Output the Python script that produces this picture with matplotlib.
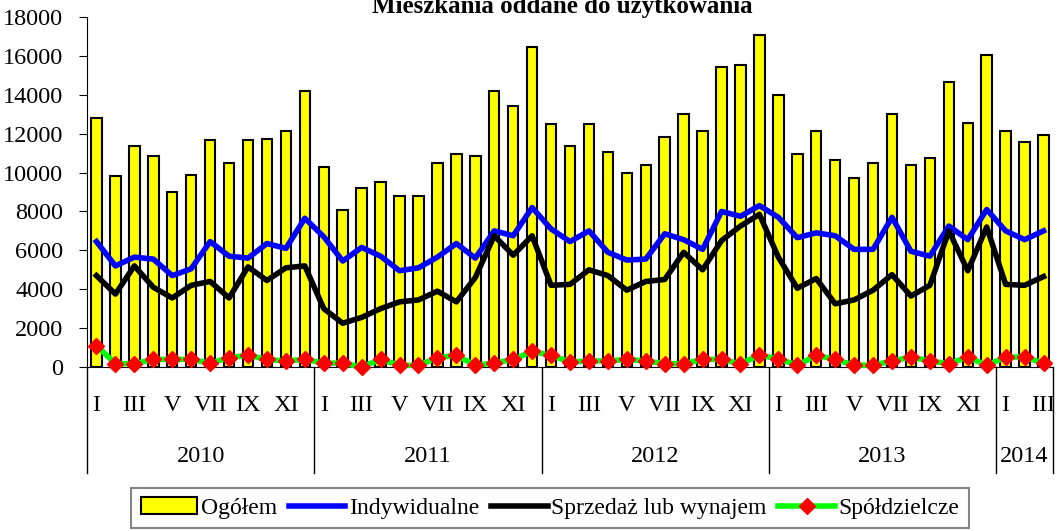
import numpy as np
import matplotlib
matplotlib.use("Agg")
import matplotlib.pyplot as plt
from matplotlib.lines import Line2D
from matplotlib.patches import Patch
import matplotlib.transforms as mtransforms

plt.rcParams['font.family'] = ['Liberation Serif', 'DejaVu Serif']

# data, Jan 2010 - Mar 2014
years = ['2010', '2011', '2012', '2013', '2014']
months_per_year = [12, 12, 12, 12, 3]
roman = ['I', 'II', 'III', 'IV', 'V', 'VI', 'VII', 'VIII', 'IX', 'X', 'XI', 'XII']

ogolem = [12800, 9800, 11350, 10850, 9000, 9900, 11650, 10500, 11650, 11750, 12150, 14200,
          10300, 8100, 9200, 9500, 8800, 8800, 10500, 10950, 10850, 14200, 13400, 16450,
          12500, 11350, 12500, 11050, 10000, 10400, 11850, 13000, 12150, 15450, 15550, 17100,
          14000, 10950, 12150, 10650, 9700, 10500, 13000, 10400, 10750, 14650, 12550, 16050,
          12150, 11550, 11950]
indywidualne = [6450, 5200, 5650, 5550, 4700, 5050, 6450, 5700, 5600, 6350, 6100, 7650,
                6700, 5450, 6150, 5700, 4950, 5100, 5650, 6350, 5600, 7000, 6750, 8200,
                7100, 6450, 7000, 5900, 5500, 5550, 6850, 6550, 6050, 8000, 7750, 8300,
                7700, 6650, 6900, 6750, 6050, 6050, 7700, 5950, 5700, 7250, 6550, 8100,
                7000, 6550, 7000]
sprzedaz = [4700, 3750, 5200, 4100, 3550, 4200, 4400, 3550, 5150, 4450, 5100, 5200,
            3000, 2250, 2550, 3000, 3350, 3450, 3900, 3350, 4600, 6750, 5750, 6750,
            4200, 4250, 5000, 4700, 3950, 4400, 4500, 5900, 5000, 6500, 7250, 7850,
            5650, 4050, 4550, 3250, 3450, 3950, 4750, 3650, 4200, 7000, 4950, 7200,
            4250, 4200, 4650]
spoldzielcze = [1100, 170, 170, 390, 390, 390, 200, 480, 600, 390, 310, 390,
                200, 200, 0, 390, 90, 90, 480, 600, 90, 200, 390, 800,
                600, 260, 310, 310, 390, 310, 170, 170, 390, 390, 170, 600,
                430, 90, 600, 390, 90, 90, 310, 510, 310, 170, 510, 90,
                510, 510, 200]

x = np.arange(len(ogolem))

fig = plt.figure(figsize=(10.58, 5.31), dpi=100)
ax = fig.add_axes([87/1058, (531-367)/531, (1053-87)/1058, 350/531])

ax.bar(x, ogolem, width=0.55, color='#ffff00', edgecolor='black', linewidth=1.5, zorder=2)
ax.plot(x, indywidualne, color='#0000ff', lw=4, zorder=3)
ax.plot(x, sprzedaz, color='black', lw=4, zorder=3)
ax.plot(x, spoldzielcze, color='#00ff00', lw=4, marker='D', markersize=8.5,
        markerfacecolor='red', markeredgecolor='red', zorder=4, clip_on=False)

ax.set_xlim(-0.5, len(x) - 0.5)
ax.set_ylim(0, 18000)
ax.set_yticks(np.arange(0, 18001, 2000))
ax.tick_params(axis='y', labelsize=17.5, length=6, direction='out', pad=11)
for s in ['top', 'right']:
    ax.spines[s].set_visible(False)

# month labels (every second month) and year groups
month_labels = []
for n in months_per_year:
    month_labels += roman[:n]
shown = [i for i in x if month_labels[i] in ('I', 'III', 'V', 'VII', 'IX', 'XI')]
ax.set_xticks(shown)
ax.set_xticklabels([month_labels[i] for i in shown])
ax.tick_params(axis='x', labelsize=17.5, length=0, pad=20)

trans = mtransforms.blended_transform_factory(ax.transData, ax.transAxes)
edges = np.concatenate([[0], np.cumsum(months_per_year)]) - 0.5
for e in edges:
    ax.plot([e, e], [0, -106/350], color='black', lw=1, transform=trans, clip_on=False)
for i, yr in enumerate(years):
    ax.text((edges[i] + edges[i+1]) / 2, -90/350, yr, transform=trans,
            ha='center', va='center', fontsize=17.5)

fig.text(562/1058, 1 - 13/531, 'Mieszkania oddane do użytkowania', ha='center',
         va='baseline', fontsize=18, fontweight='bold')

handles = [Patch(facecolor='#ffff00', edgecolor='black', linewidth=1.5),
           Line2D([], [], color='#0000ff', lw=4),
           Line2D([], [], color='black', lw=4),
           Line2D([], [], color='#00ff00', lw=4, marker='D', markersize=8.5,
                  markerfacecolor='red', markeredgecolor='red')]
labels = ['Ogółem', 'Indywidualne', 'Sprzedaż lub wynajem', 'Spółdzielcze']
leg = fig.legend(handles, labels, loc='center', bbox_to_anchor=(550/1058, 1 - 508/531),
                 ncol=4, fontsize=17, frameon=True, fancybox=False, handlelength=2.4,
                 handletextpad=0.15, columnspacing=0.5, borderpad=0.4)
leg.get_frame().set_edgecolor('#666666')
leg.get_frame().set_linewidth(1.5)

fig.savefig('out.png', dpi=100)
